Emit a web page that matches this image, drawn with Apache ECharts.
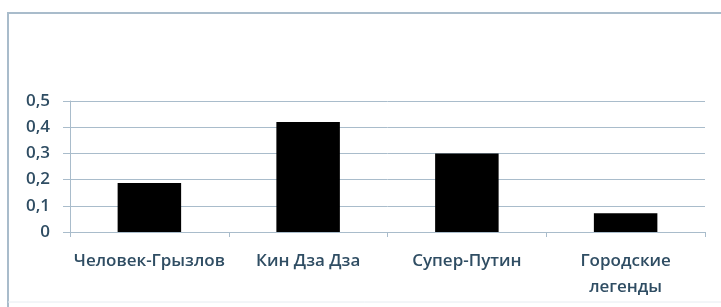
<!DOCTYPE html>
<html>
<head>
<meta charset="utf-8">
<script src="https://cdn.jsdelivr.net/npm/echarts@6/dist/echarts.min.js"></script>
<style>
html,body{margin:0;padding:0;background:#fff}
#chart{width:721px;height:307px}
</style>
</head>
<body>
<div id="chart"></div>
<script>
var categories = ['Человек-Грызлов', 'Кин Дза Дза', 'Супер-Путин', 'Городские\nлегенды']
var values = [0.187, 0.42, 0.30, 0.072]
var yTicks = { min: 0, max: 0.5, interval: 0.1 }

var Chart = echarts.init(document.getElementById('chart'))
var textColor = '#2f4d63'
var lineColor = '#a9bccb'
var option = {
    animation: false,
    grid: {
        left: 70,
        right: 16,
        top: 101,
        bottom: 75
    },
    // frame of the chart: only left and top edges are visible in the picture
    graphic: [{
        type: 'polyline',
        shape: { points: [[8, 307], [8, 13], [721, 13]] },
        style: { fill: 'none', stroke: '#a9bccb', lineWidth: 2 }
    }, {
        type: 'line',
        shape: { x1: 8, y1: 302, x2: 721, y2: 302 },
        style: { stroke: '#e6ecf1', lineWidth: 1 }
    }],
    xAxis: {
        type: 'category',
        data: categories,
        axisLine: { lineStyle: { color: lineColor } },
        axisTick: { show: true, length: 5, lineStyle: { color: lineColor } },
        axisLabel: {
            color: textColor,
            fontFamily: 'Open Sans',
            fontSize: 17,
            fontWeight: 600,
            margin: 16,
            lineHeight: 26,
            interval: 0
        }
    },
    yAxis: {
        type: 'value',
        min: yTicks.min,
        max: yTicks.max,
        interval: yTicks.interval,
        axisLine: { show: true, lineStyle: { color: lineColor } },
        axisTick: { show: true, length: 7, lineStyle: { color: lineColor } },
        splitLine: { lineStyle: { color: lineColor } },
        axisLabel: {
            color: textColor,
            fontFamily: 'Open Sans',
            fontSize: 17,
            fontWeight: 600,
            margin: 20,
            formatter: function (v) { return String(+v.toFixed(1)).replace('.', ',') }
        }
    },
    series: [{
        type: 'bar',
        data: values,
        barWidth: '40%',
        itemStyle: { color: '#000' }
    }]
}
Chart.setOption(option)
</script>
</body>
</html>
